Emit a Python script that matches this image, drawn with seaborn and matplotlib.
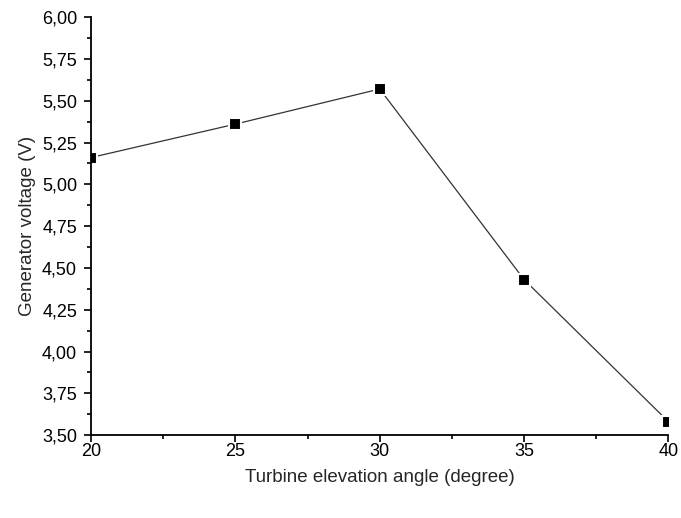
import pandas as pd
import seaborn as sns
import matplotlib.pyplot as plt
from matplotlib.ticker import FuncFormatter, MultipleLocator

angles = [20, 25, 30, 35, 40]
voltage = [5.16, 5.36, 5.57, 4.43, 3.58]
y_ticks = [3.50, 3.75, 4.00, 4.25, 4.50, 4.75, 5.00, 5.25, 5.50, 5.75, 6.00]
x_ticks = [20, 25, 30, 35, 40]

df = pd.DataFrame({"angle": angles, "voltage": voltage})

sns.set_style("ticks")
plt.rcParams['font.family'] = ['Liberation Sans', 'DejaVu Sans']

fig = plt.figure(figsize=(6.81, 5.18), dpi=100)
ax = fig.add_axes([0.1336, 0.160, 0.848, 0.807])

sns.lineplot(data=df, x="angle", y="voltage", ax=ax, color="#333333",
             linewidth=0.9, marker="s", markersize=8, markerfacecolor="black",
             markeredgecolor="white", markeredgewidth=1.5)

ax.set_xlim(20, 40)
ax.set_ylim(3.5, 6.0)
ax.set_xticks(x_ticks)
ax.set_yticks(y_ticks)
ax.xaxis.set_minor_locator(MultipleLocator(2.5))
ax.yaxis.set_minor_locator(MultipleLocator(0.125))
ax.yaxis.set_major_formatter(FuncFormatter(lambda v, p: f"{v:.2f}".replace(".", ",")))

ax.tick_params(axis="both", which="major", direction="out", length=5, width=1.2,
               labelsize=13, color="black", labelcolor="black")
ax.tick_params(axis="x", which="major", pad=0.5)
ax.tick_params(axis="y", which="major", pad=5)
ax.tick_params(axis="both", which="minor", direction="out", length=3, width=1.2,
               color="black")
for s in ["left", "bottom"]:
    ax.spines[s].set_linewidth(1.3)
    ax.spines[s].set_color("black")
sns.despine(ax=ax)

ax.set_xlabel("Turbine elevation angle (degree)", fontsize=13.5, labelpad=7)
ax.set_ylabel("Generator voltage (V)", fontsize=13.5, labelpad=4)

fig.savefig("out.png", dpi=100)
